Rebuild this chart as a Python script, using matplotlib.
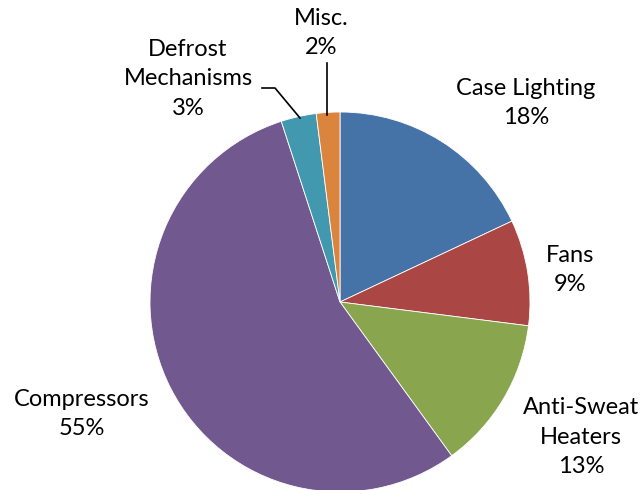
import numpy as np
import matplotlib
matplotlib.use("Agg")
import matplotlib.pyplot as plt

plt.rcParams["font.family"] = ["Lato", "DejaVu Sans"]

categories = ["Case Lighting", "Fans", "Anti-Sweat\nHeaters", "Compressors",
              "Defrost\nMechanisms", "Misc."]
shares = [18, 9, 13, 55, 3, 2]
colors = ["#4572A7", "#AA4643", "#89A54E", "#71588F", "#4198AF", "#DB843D"]

# label centres in pixel coords (y from top)
label_pos = [(526, 103), (570, 270), (581, 437), (82, 414), (188, 79), (321, 33)]

W, H = 641, 490
fig = plt.figure(figsize=(W / 100, H / 100), dpi=100)
ax = fig.add_axes([0, 0, 1, 1])

cx, cy, r = 340, H - 302, 190
wedges, _ = ax.pie(shares, colors=colors, startangle=90, counterclock=False,
                   center=(cx, cy), radius=r, frame=True,
                   wedgeprops=dict(edgecolor="white", linewidth=0.6))
ax.set_xlim(0, W)
ax.set_ylim(0, H)
ax.axis("off")

for name, val, (lx, ly) in zip(categories, shares, label_pos):
    ax.text(lx, H - ly, f"{name}\n{val}%", ha="center", va="center",
            fontsize=17, linespacing=1.5, color="black")

# leader lines for the two small slices
ax.plot([327, 327], [H - 63, H - 115], color="black", lw=1.2)
ax.plot([262, 275, 300], [H - 88, H - 88, H - 118], color="black", lw=1.2)

fig.savefig("out.png", dpi=100)
